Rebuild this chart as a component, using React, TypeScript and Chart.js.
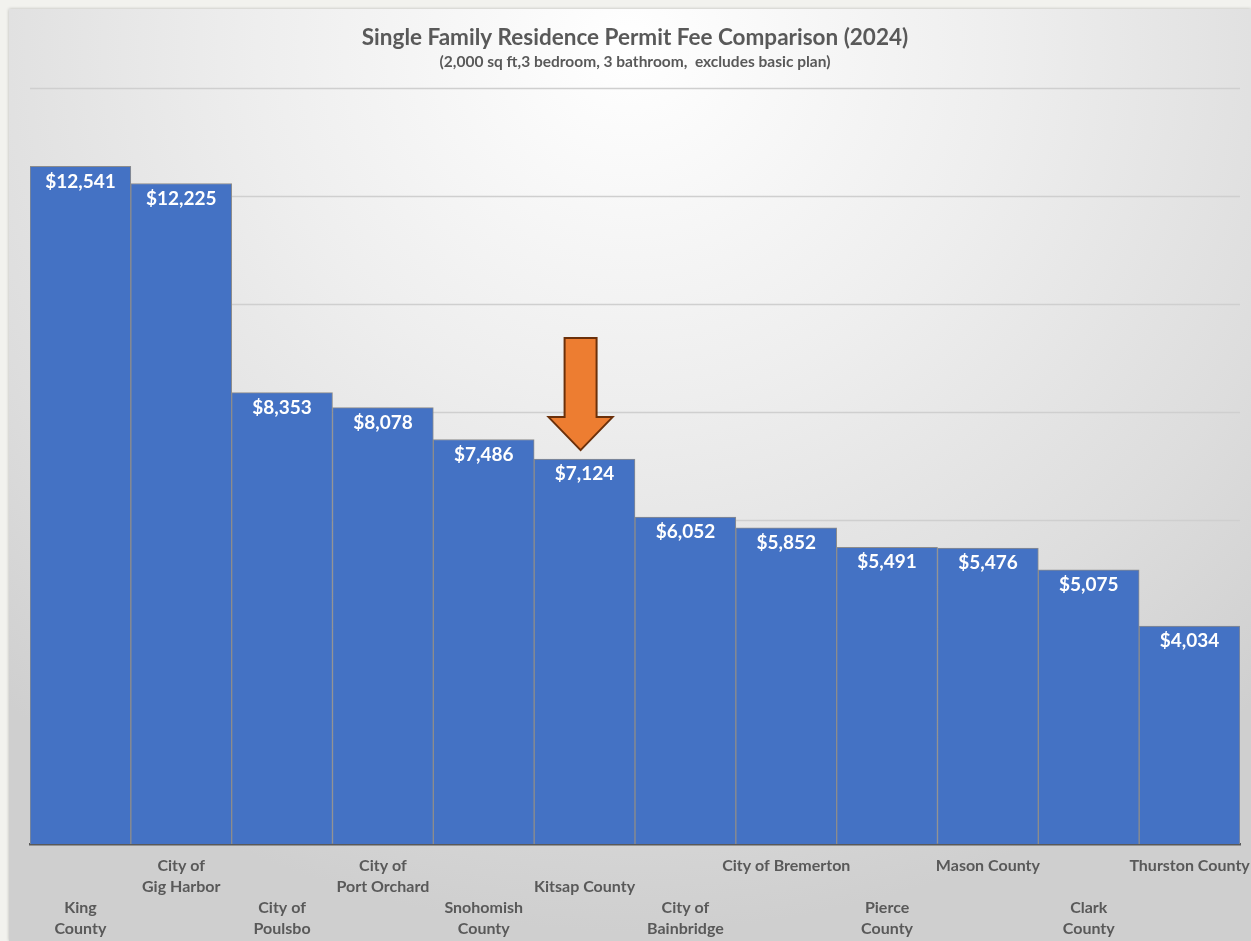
import React, { useEffect, useRef } from "react";
import { Chart, registerables } from "chart.js";

Chart.register(...registerables);

const titleText = "Single Family Residence Permit Fee Comparison (2024)";
const subtitleText = "(2,000 sq ft,3 bedroom, 3 bathroom,  excludes basic plan)";

const categoryLabels: string[][] = [
  ["", "", "King", "County"],
  ["City of", "Gig Harbor", "", ""],
  ["", "", "City of", "Poulsbo"],
  ["City of", "Port Orchard", "", ""],
  ["", "", "Snohomish", "County"],
  ["", "Kitsap County", "", ""],
  ["", "", "City of", "Bainbridge"],
  ["City of Bremerton", "", "", ""],
  ["", "", "Pierce", "County"],
  ["Mason County", "", "", ""],
  ["", "", "Clark", "County"],
  ["Thurston County", "", "", ""],
];

const permitFees = [12541, 12225, 8353, 8078, 7486, 7124, 6052, 5852, 5491, 5476, 5075, 4034];

const gridValues = [2000, 4000, 6000, 8000, 10000, 12000, 14000];
const highlightIndex = 5;

const FONT = "Lato, 'Open Sans', sans-serif";

const fmt = (v: number) => "$" + v.toLocaleString("en-US");

const gridPlugin = {
  id: "customGrid",
  beforeDatasetsDraw(chart: any) {
    const { ctx, chartArea, scales } = chart;
    ctx.save();
    ctx.strokeStyle = "#cfcfcf";
    ctx.lineWidth = 1.5;
    gridValues.forEach((v) => {
      const y = Math.round(scales.y.getPixelForValue(v)) + 0.5;
      ctx.beginPath();
      ctx.moveTo(chartArea.left, y);
      ctx.lineTo(chartArea.right, y);
      ctx.stroke();
    });
    ctx.restore();
  },
};

const labelPlugin = {
  id: "valueLabels",
  afterDatasetsDraw(chart: any) {
    const { ctx } = chart;
    const meta = chart.getDatasetMeta(0);
    ctx.save();
    ctx.fillStyle = "#ffffff";
    ctx.font = `bold 19px ${FONT}`;
    ctx.textAlign = "center";
    ctx.textBaseline = "middle";
    meta.data.forEach((bar: any, i: number) => {
      ctx.fillText(fmt(permitFees[i]), bar.x, bar.y + 15);
    });
    // highlight arrow
    const b = meta.data[highlightIndex];
    const cx = b.x - 4;
    const tip = b.y - 9;
    const total = 112;
    const headH = 33;
    const headW = 32;
    const shaftW = 16;
    ctx.beginPath();
    ctx.moveTo(cx - shaftW, tip - total);
    ctx.lineTo(cx + shaftW, tip - total);
    ctx.lineTo(cx + shaftW, tip - headH);
    ctx.lineTo(cx + headW, tip - headH);
    ctx.lineTo(cx, tip);
    ctx.lineTo(cx - headW, tip - headH);
    ctx.lineTo(cx - shaftW, tip - headH);
    ctx.closePath();
    ctx.fillStyle = "#ED7D31";
    ctx.fill();
    ctx.strokeStyle = "#6b300a";
    ctx.lineWidth = 2;
    ctx.lineJoin = "miter";
    ctx.stroke();
    ctx.restore();
  },
};

export default function App() {
  const canvasRef = useRef<HTMLCanvasElement | null>(null);

  useEffect(() => {
    if (!canvasRef.current) return;
    const chart = new Chart(canvasRef.current, {
      type: "bar",
      data: {
        labels: categoryLabels,
        datasets: [
          {
            data: permitFees,
            backgroundColor: "#4472C4",
            borderColor: "#8c8c8c",
            borderWidth: 1,
            categoryPercentage: 1,
            barPercentage: 1,
          },
        ],
      },
      options: {
        animation: false,
        responsive: true,
        maintainAspectRatio: false,
        layout: { padding: { left: 21, right: 11, top: 0, bottom: 3 } },
        plugins: {
          legend: { display: false },
          tooltip: { enabled: false },
          title: {
            display: true,
            text: titleText,
            color: "#595959",
            font: { family: FONT, size: 22.5, weight: "bold" },
            padding: { top: 15, bottom: 2 },
          },
          subtitle: {
            display: true,
            text: subtitleText,
            color: "#595959",
            font: { family: FONT, size: 15.5, weight: "bold" },
            padding: { top: 0, bottom: 16 },
          },
        },
        scales: {
          x: {
            z: 1,
            grid: { display: false, drawTicks: false },
            border: { display: true, color: "#595959", width: 2.5 },
            afterFit: (scale: any) => {
              scale.paddingLeft = 0;
              scale.paddingRight = 0;
            },
            ticks: {
              color: "#595959",
              font: { family: FONT, size: 16, weight: "bold", lineHeight: 1.3125 },
              padding: 11,
              maxRotation: 0,
              minRotation: 0,
              autoSkip: false,
            },
          },
          y: {
            display: false,
            min: 0,
            max: 14000,
          },
        },
      },
      plugins: [gridPlugin, labelPlugin],
    });
    return () => chart.destroy();
  }, []);

  return (
    <div style={{ position: "fixed", inset: 0, background: "#f2f2ee" }}>
      <div
        style={{
          position: "absolute",
          left: 9,
          top: 9,
          width: 1242,
          height: 932,
          overflow: "hidden",
          background:
            "radial-gradient(ellipse 75% 95% at 50% 4%, #ffffff 0%, #eeeeee 40%, #dddddd 75%, #cfcfcf 100%)",
          boxShadow: "0 0 3px rgba(0,0,0,0.25)",
        }}
      >
        <div style={{ position: "relative", width: 1242, height: 944 }}>
          <canvas ref={canvasRef} />
        </div>
      </div>
    </div>
  );
}
